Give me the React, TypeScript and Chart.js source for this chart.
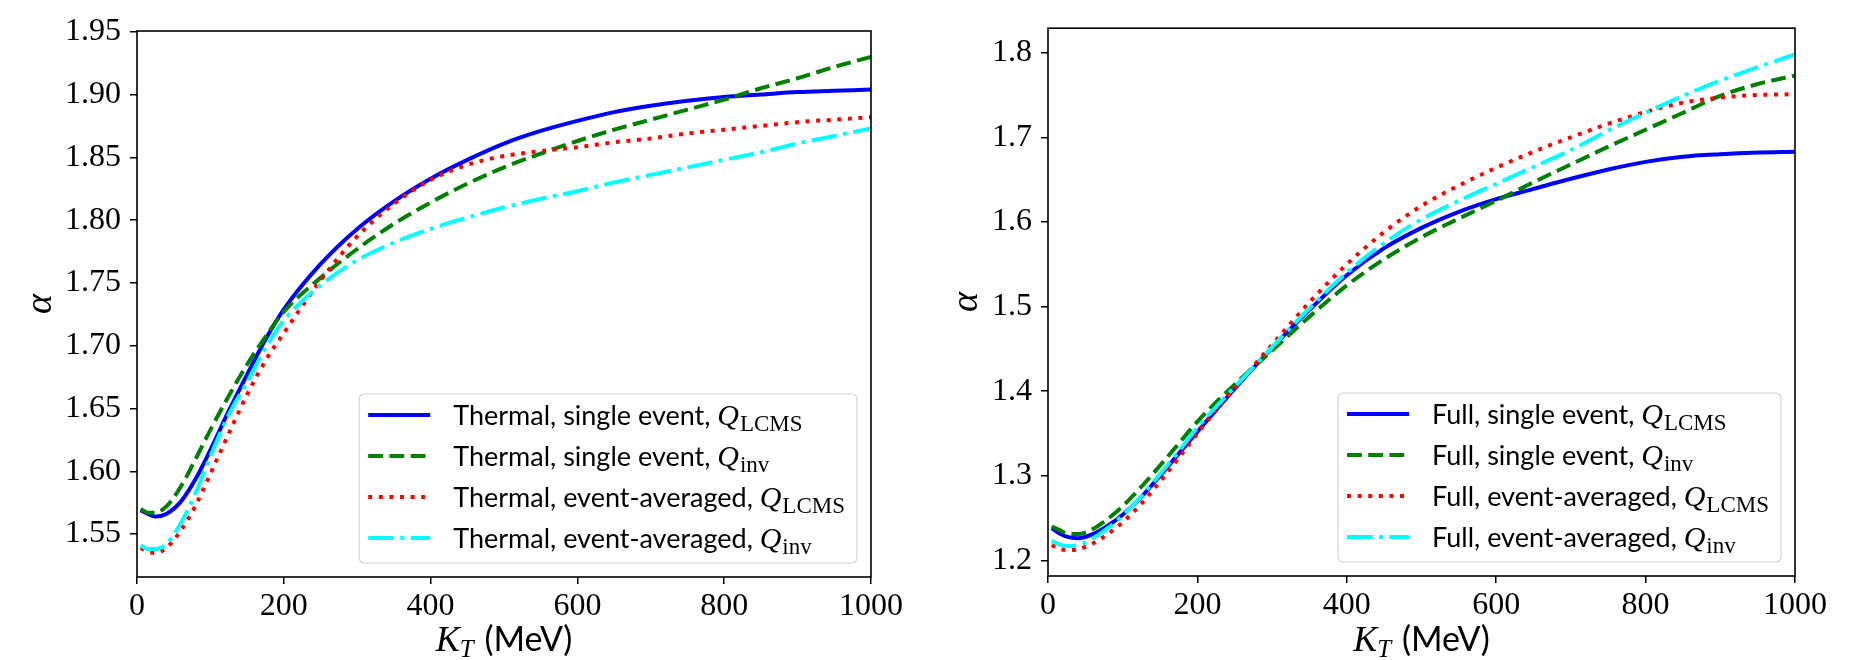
import React, { useEffect, useRef } from "react";
import { Chart, registerables } from "chart.js";

Chart.register(...registerables);

// ---------- data ----------
const kT = [5, 15, 25, 40, 60, 80, 100, 125, 150, 175, 200, 250, 300, 350, 400, 450, 500, 550, 600, 650, 700, 750, 800, 850, 900, 950, 1000];

// Left panel (thermal)
const thermalSingleLCMS = [1.569, 1.566, 1.564, 1.566, 1.576, 1.594, 1.617, 1.648, 1.677, 1.705, 1.729, 1.765, 1.793, 1.815, 1.833, 1.848, 1.861, 1.871, 1.879, 1.886, 1.891, 1.895, 1.898, 1.900, 1.902, 1.903, 1.904];
const thermalSingleInv = [1.570, 1.567, 1.567, 1.572, 1.588, 1.610, 1.633, 1.660, 1.685, 1.707, 1.727, 1.754, 1.777, 1.797, 1.814, 1.829, 1.842, 1.853, 1.863, 1.872, 1.880, 1.888, 1.896, 1.905, 1.913, 1.922, 1.930];
const thermalAvgLCMS = [1.539, 1.536, 1.535, 1.539, 1.553, 1.573, 1.598, 1.630, 1.661, 1.688, 1.710, 1.752, 1.787, 1.813, 1.832, 1.844, 1.851, 1.855, 1.858, 1.862, 1.865, 1.869, 1.872, 1.875, 1.878, 1.880, 1.882];
const thermalAvgInv = [1.541, 1.538, 1.538, 1.542, 1.559, 1.583, 1.612, 1.645, 1.671, 1.698, 1.720, 1.748, 1.768, 1.782, 1.793, 1.802, 1.810, 1.817, 1.823, 1.830, 1.836, 1.842, 1.848, 1.854, 1.861, 1.867, 1.873];

// Right panel (full)
const fullSingleLCMS = [1.238, 1.232, 1.228, 1.226, 1.231, 1.241, 1.254, 1.275, 1.300, 1.326, 1.352, 1.403, 1.451, 1.496, 1.537, 1.569, 1.593, 1.612, 1.627, 1.639, 1.651, 1.662, 1.671, 1.677, 1.680, 1.682, 1.683];
const fullSingleInv = [1.240, 1.236, 1.232, 1.231, 1.237, 1.249, 1.264, 1.287, 1.312, 1.338, 1.364, 1.408, 1.448, 1.488, 1.525, 1.556, 1.582, 1.604, 1.625, 1.647, 1.668, 1.689, 1.709, 1.729, 1.749, 1.763, 1.773];
const fullAvgLCMS = [1.218, 1.214, 1.212, 1.213, 1.220, 1.231, 1.245, 1.267, 1.293, 1.321, 1.350, 1.404, 1.455, 1.505, 1.550, 1.588, 1.619, 1.643, 1.664, 1.683, 1.700, 1.716, 1.730, 1.741, 1.747, 1.750, 1.751];
const fullAvgInv = [1.223, 1.219, 1.217, 1.218, 1.226, 1.238, 1.253, 1.276, 1.302, 1.329, 1.357, 1.405, 1.452, 1.498, 1.540, 1.575, 1.603, 1.625, 1.645, 1.665, 1.685, 1.708, 1.729, 1.749, 1.767, 1.783, 1.798];

const leftLabels = ["Thermal, single event, Q_LCMS", "Thermal, single event, Q_inv", "Thermal, event-averaged, Q_LCMS", "Thermal, event-averaged, Q_inv"];
const rightLabels = ["Full, single event, Q_LCMS", "Full, single event, Q_inv", "Full, event-averaged, Q_LCMS", "Full, event-averaged, Q_inv"];

const xTicks = [0, 200, 400, 600, 800, 1000];
const yTicksLeft = [1.55, 1.6, 1.65, 1.7, 1.75, 1.8, 1.85, 1.9, 1.95];
const yTicksRight = [1.2, 1.3, 1.4, 1.5, 1.6, 1.7, 1.8];

// ---------- styles ----------
const colors = ["#0000ff", "#008000", "#ff0000", "#00ffff"];
const LW = 4;
const dashes: number[][] = [[], [14.8, 6.4], [4, 6.6], [25.6, 6.4, 4, 6.4]];
const SERIF = "'Liberation Serif', 'DejaVu Serif', serif";
const SANS = "Lato, 'Open Sans', sans-serif";

function drawRich(ctx: CanvasRenderingContext2D, label: string, x: number, baseline: number, draw: boolean): number {
  const [pre, sub] = label.split("Q_");
  let cx = x;
  ctx.font = `27px ${SANS}`;
  if (draw) ctx.fillText(pre, cx, baseline);
  cx += ctx.measureText(pre).width;
  ctx.font = `italic 30px ${SERIF}`;
  if (draw) ctx.fillText("Q", cx, baseline);
  cx += ctx.measureText("Q").width + 1;
  ctx.font = `23px ${SERIF}`;
  if (draw) ctx.fillText(sub, cx, baseline + 6);
  cx += ctx.measureText(sub).width;
  return cx - x;
}

function makeDecor(labels: string[]) {
  return {
    id: "decor",
    afterDraw(chart: any) {
      const ctx: CanvasRenderingContext2D = chart.ctx;
      const a = chart.chartArea;
      ctx.save();
      // frame
      ctx.setLineDash([]);
      ctx.strokeStyle = "#000";
      ctx.lineWidth = 1.6;
      ctx.strokeRect(a.left, a.top, a.right - a.left, a.bottom - a.top);

      // legend
      ctx.textBaseline = "alphabetic";
      ctx.textAlign = "left";
      let maxW = 0;
      labels.forEach((l) => {
        maxW = Math.max(maxW, drawRich(ctx, l, 0, 0, false));
      });
      const padL = 9, handle = 62, gap = 23, padR = 12;
      const boxW = padL + handle + gap + maxW + padR;
      const boxH = 169;
      const bx = a.right - 14 - boxW;
      const by = a.bottom - 14 - boxH;
      ctx.beginPath();
      (ctx as any).roundRect(bx, by, boxW, boxH, 5);
      ctx.fillStyle = "rgba(255,255,255,0.85)";
      ctx.fill();
      ctx.strokeStyle = "#d3d3d3";
      ctx.lineWidth = 1.2;
      ctx.stroke();
      labels.forEach((l, i) => {
        const cy = by + 21 + i * 41;
        ctx.beginPath();
        ctx.setLineDash(dashes[i]);
        ctx.lineCap = "butt";
        ctx.strokeStyle = colors[i];
        ctx.lineWidth = LW;
        ctx.moveTo(bx + padL, cy);
        ctx.lineTo(bx + padL + handle, cy);
        ctx.stroke();
        ctx.setLineDash([]);
        ctx.fillStyle = "#000";
        drawRich(ctx, l, bx + padL + handle + gap, cy + 10, true);
      });

      // x-axis title: K_T (MeV)
      ctx.fillStyle = "#000";
      const base = 651;
      ctx.font = `italic 36px ${SERIF}`;
      const wK = ctx.measureText("K").width;
      ctx.font = `italic 25px ${SERIF}`;
      const wT = ctx.measureText("T").width;
      ctx.font = `34px ${SANS}`;
      const wM = ctx.measureText(" (MeV)").width;
      const total = wK + wT + 2 + wM;
      let x = (a.left + a.right) / 2 - total / 2;
      ctx.font = `italic 36px ${SERIF}`;
      ctx.fillText("K", x, base);
      x += wK;
      ctx.font = `italic 25px ${SERIF}`;
      ctx.fillText("T", x, base + 6);
      x += wT + 2;
      ctx.font = `34px ${SANS}`;
      ctx.fillText(" (MeV)", x, base);
      ctx.restore();
    },
  };
}

function makeConfig(series: number[][], labels: string[], yMin: number, yMax: number, yTicks: number[], digits: number, padTop: number, padRight: number, yWidth: number, xHeight: number) {
  const datasets = series.map((arr, i) => ({
    label: labels[i],
    data: kT.map((x, j) => ({ x, y: arr[j] })),
    borderColor: colors[i],
    backgroundColor: colors[i],
    borderWidth: LW,
    borderDash: dashes[i],
    borderCapStyle: "butt",
    pointRadius: 0,
    cubicInterpolationMode: "monotone",
    fill: false,
    clip: 0,
    order: 3 - i,
  }));
  const tickGrid = { drawOnChartArea: false, drawTicks: true, tickLength: 7, color: "#000", lineWidth: 1.5 };
  return {
    type: "line",
    data: { datasets },
    options: {
      animation: false,
      responsive: false,
      devicePixelRatio: 1,
      layout: { padding: { top: padTop, right: padRight, left: 0, bottom: 0 } },
      plugins: { legend: { display: false }, tooltip: { enabled: false } },
      scales: {
        x: {
          type: "linear",
          min: 0,
          max: 1000,
          border: { display: false },
          grid: tickGrid,
          afterBuildTicks: (s: any) => {
            s.ticks = xTicks.map((v) => ({ value: v }));
          },
          afterFit: (s: any) => {
            s.height = xHeight;
          },
          ticks: {
            autoSkip: false,
            maxRotation: 0,
            color: "#000",
            padding: 3,
            font: { family: SERIF, size: 32 },
            callback: (v: any) => String(v),
          },
        },
        y: {
          type: "linear",
          min: yMin,
          max: yMax,
          border: { display: false },
          grid: tickGrid,
          afterBuildTicks: (s: any) => {
            s.ticks = yTicks.map((v) => ({ value: v }));
          },
          afterFit: (s: any) => {
            s.width = yWidth;
          },
          ticks: {
            autoSkip: false,
            color: "#000",
            padding: 9,
            font: { family: SERIF, size: 32 },
            callback: (v: any) => Number(v).toFixed(digits),
          },
          title: {
            display: true,
            text: "α",
            color: "#000",
            font: { family: SERIF, style: "italic", size: 38 },
            padding: { top: 18, bottom: 0 },
          },
        },
      },
    },
    plugins: [makeDecor(labels)],
  };
}

function Panel(props: { cfg: any; left: number }) {
  const ref = useRef<HTMLCanvasElement>(null);
  useEffect(() => {
    const chart = new Chart(ref.current as HTMLCanvasElement, props.cfg);
    return () => chart.destroy();
  }, []);
  return (
    <canvas
      ref={ref}
      width={926}
      height={660}
      style={{ position: "absolute", left: props.left, top: 0, width: 926, height: 660 }}
    />
  );
}

export default function App() {
  const leftCfg = makeConfig(
    [thermalSingleLCMS, thermalSingleInv, thermalAvgLCMS, thermalAvgInv],
    leftLabels, 1.5158, 1.9506, yTicksLeft, 2, 31, 55, 137, 83
  );
  const rightCfg = makeConfig(
    [fullSingleLCMS, fullSingleInv, fullAvgLCMS, fullAvgInv],
    rightLabels, 1.1815, 1.829, yTicksRight, 1, 20, 57, 122, 84
  );
  return (
    <div style={{ position: "absolute", left: 0, top: 0, width: 1852, height: 660, background: "#fff" }}>
      <Panel cfg={leftCfg} left={0} />
      <Panel cfg={rightCfg} left={926} />
    </div>
  );
}
